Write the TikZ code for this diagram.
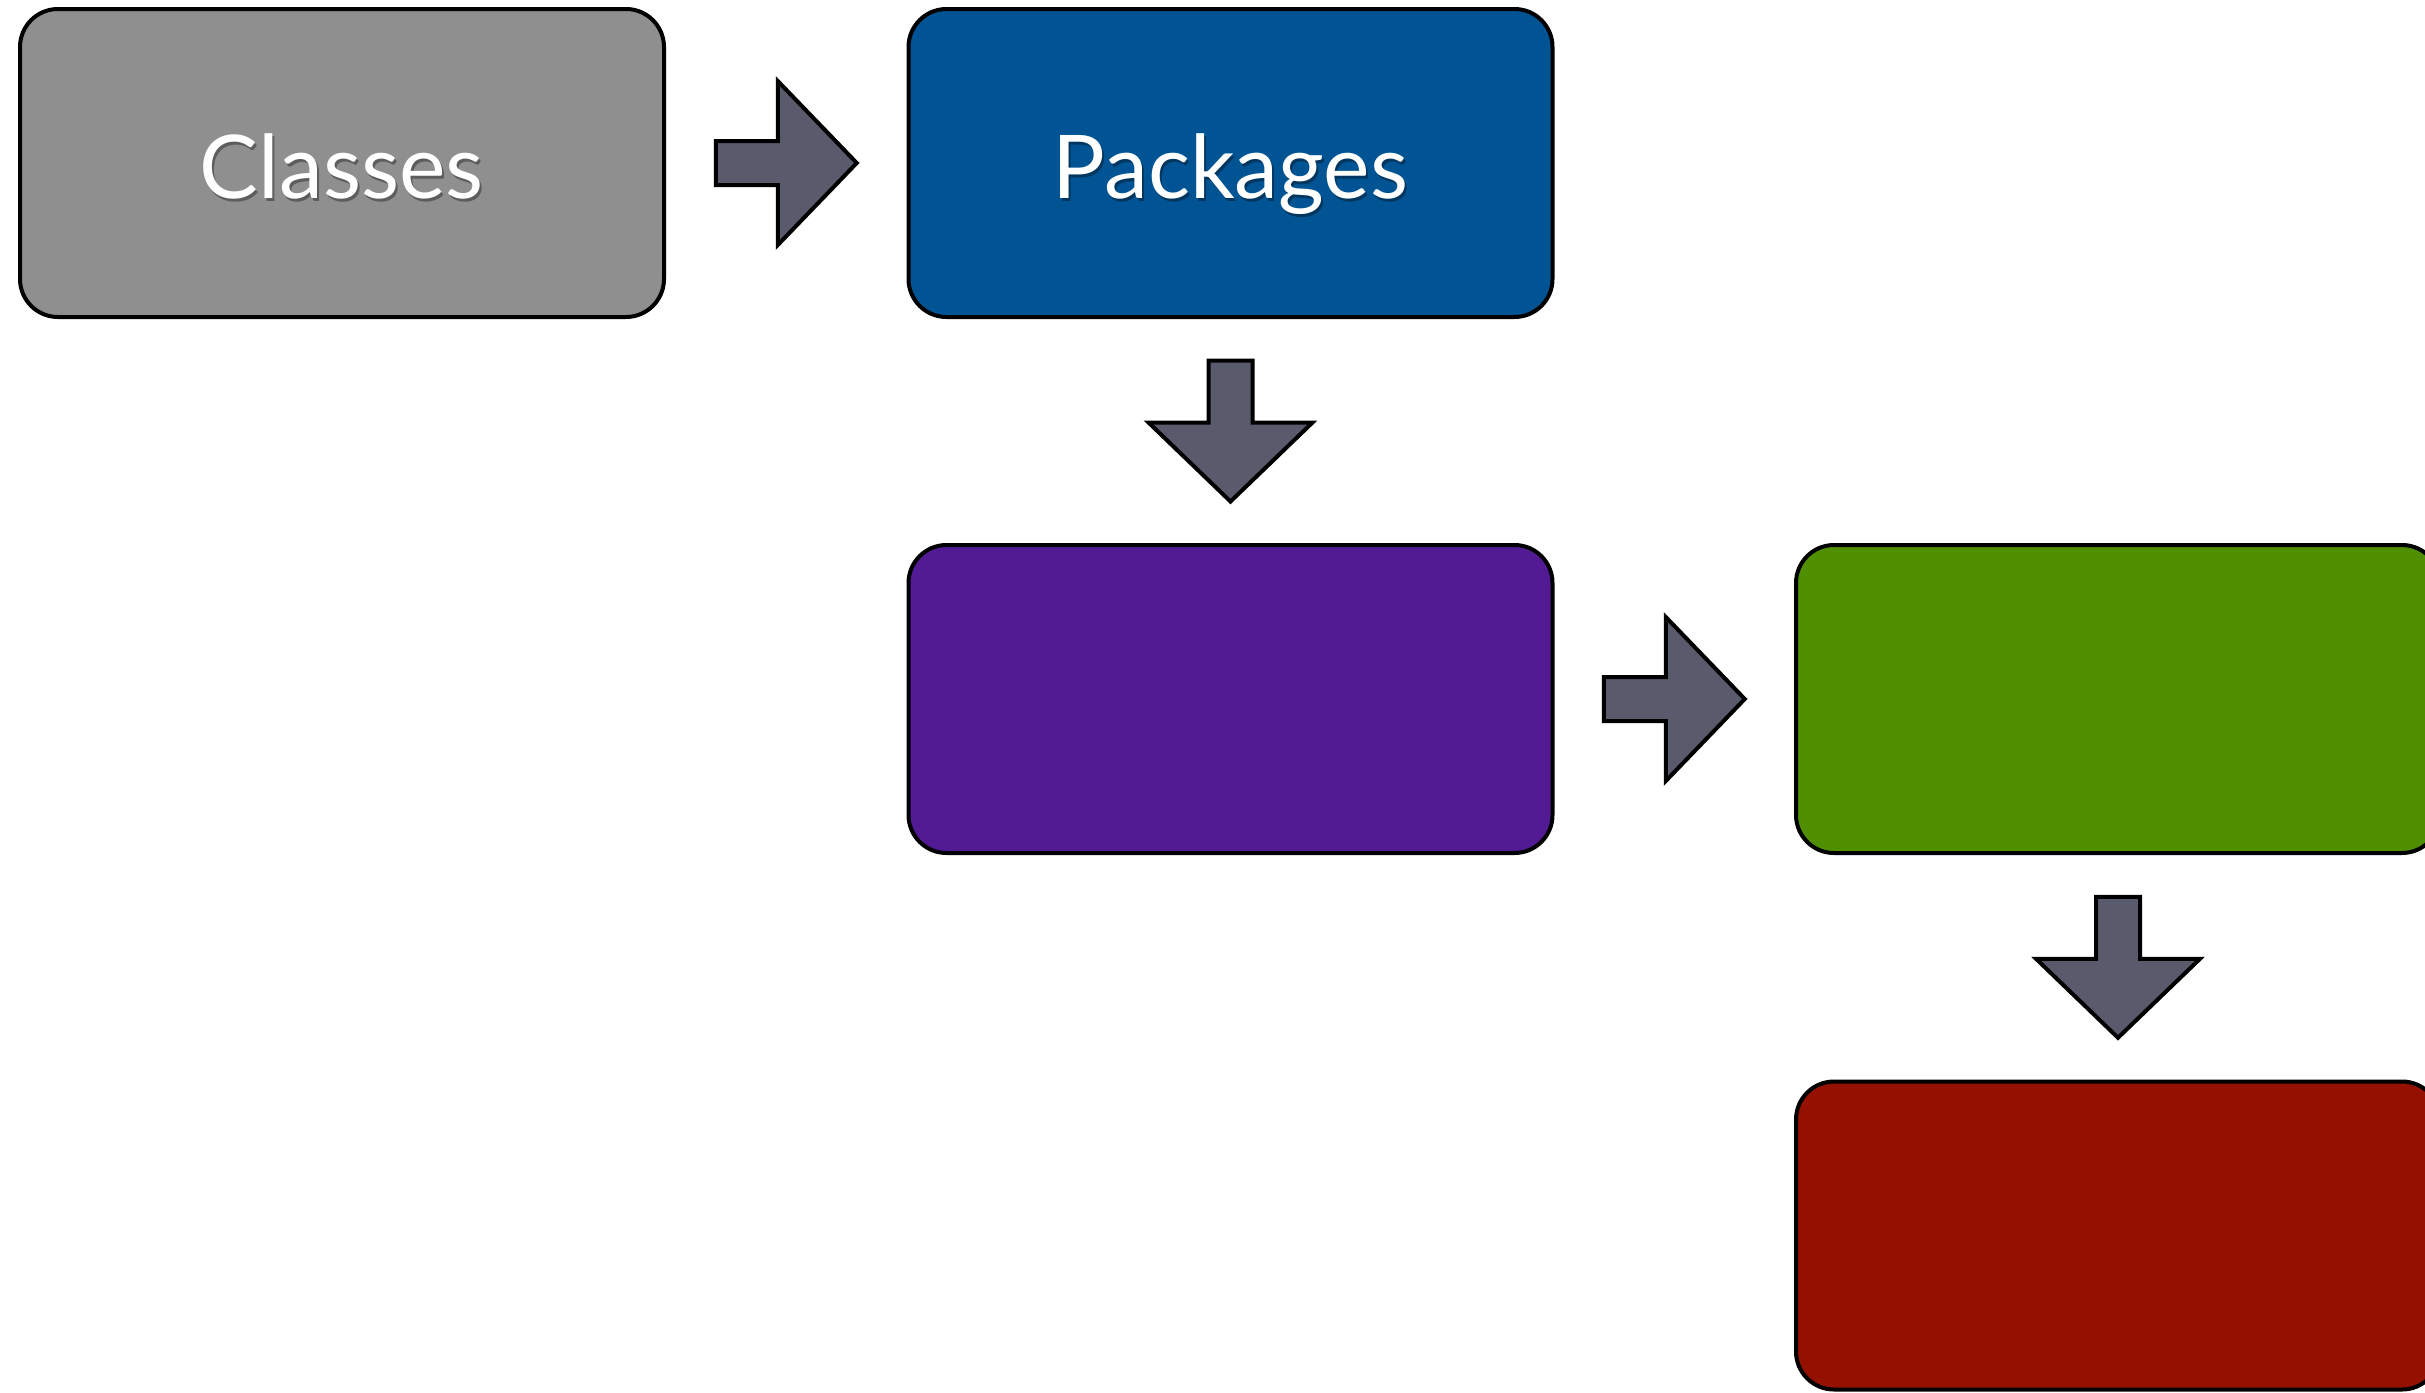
\documentclass[tikz,border=0pt]{standalone}
\usepackage{fontspec}
\setmainfont{Lato}
\usetikzlibrary{calc}
\definecolor{cgray}{HTML}{8F8F8F}
\definecolor{cblue}{HTML}{005493}
\definecolor{cpurple}{HTML}{531B93}
\definecolor{cgreen}{HTML}{4F8F00}
\definecolor{cred}{HTML}{941100}
\definecolor{carrow}{HTML}{595B6C}
\tikzset{
  box/.style={draw=black, line width=2pt, rounded corners=19pt,
    minimum width=322pt, minimum height=154pt, inner sep=0pt},
  lbl/.style={text=white, font=\fontsize{44}{50}\selectfont, anchor=base, inner sep=0pt},
  lblshadow/.style={text=black, opacity=0.35, font=\fontsize{44}{50}\selectfont, anchor=base, inner sep=0pt},
  blockarrow/.style={draw=black, fill=carrow, line width=2pt, line join=miter},
  rarrow/.pic={\path[blockarrow] (-70.5,-22) -- (-8.5,-22) -- (-8.5,-82) -- (70.5,0)
      -- (-8.5,82) -- (-8.5,22) -- (-70.5,22) -- cycle;},
  darrow/.pic={\path[blockarrow] (-22,-70.5) -- (-22,-8.5) -- (-82,-8.5) -- (0,70.5)
      -- (82,-8.5) -- (22,-8.5) -- (22,-70.5) -- cycle;}
}
\begin{document}
\begin{tikzpicture}[x=0.5pt, y=-0.5pt]
\useasboundingbox (0,0) rectangle (2425,1392);
\node[box, fill=cgray]   (classes)  at (342,163)    {};
\node[box, fill=cblue]   (packages) at (1230.5,163) {};
\node[box, fill=cpurple] (purple)   at (1230.5,699) {};
\node[box, fill=cgreen]  (green)    at (2118,699)   {};
\node[box, fill=cred]    (red)      at (2118,1235.5) {};

\node[lblshadow] (classesS) at ($(classes.center)+(2,38)$) {Classes};
\node[lbl] (classesT) at ($(classes.center)+(0,35)$) {Classes};
\node[lblshadow] (packagesS) at ($(packages.center)+(2,38)$) {Packages};
\node[lbl] (packagesT) at ($(packages.center)+(0,35)$) {Packages};

\pic at ($(classes.east)!0.5!(packages.west)$) {rarrow};
\pic at ($(packages.south)!0.5!(purple.north)$) {darrow};
\pic at ($(purple.east)!0.5!(green.west)$) {rarrow};
\pic at ($(green.south)!0.5!(red.north)$) {darrow};
\end{tikzpicture}
\end{document}
